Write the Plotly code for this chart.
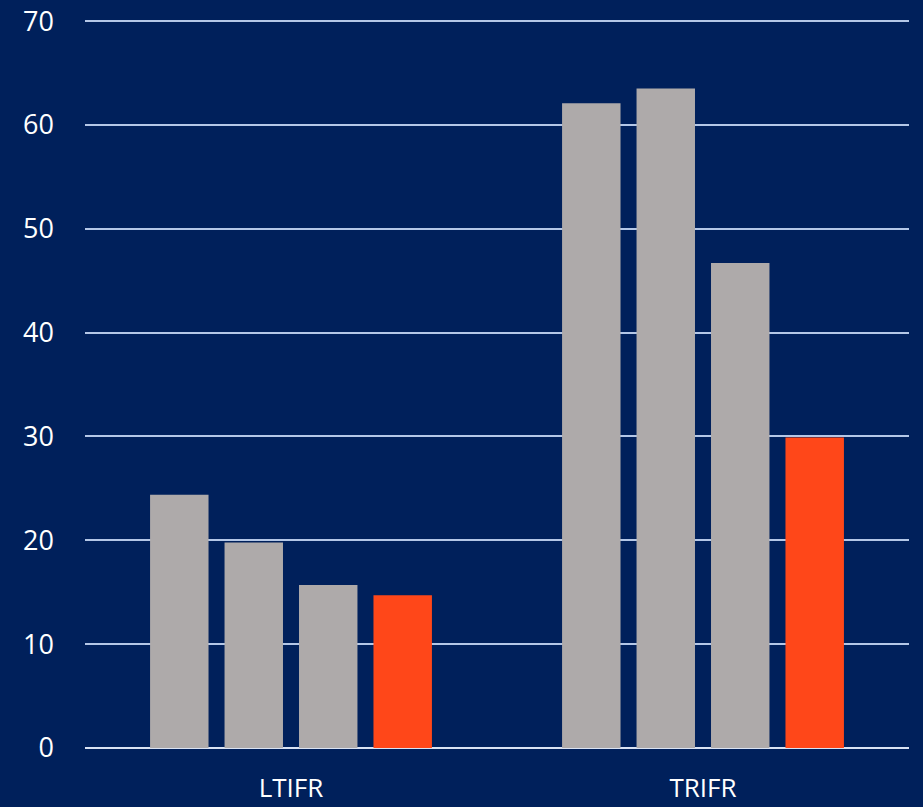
import plotly.graph_objects as go

categories = ["LTIFR", "TRIFR"]
series_names = ["Year 1", "Year 2", "Year 3", "Year 4"]
series_values = [
    [24.4, 62.1],
    [19.8, 63.5],
    [15.7, 46.7],
    [14.7, 29.9],
]
series_colors = ["#AEAAAA", "#AEAAAA", "#AEAAAA", "#FF4719"]
y_ticks = [0, 10, 20, 30, 40, 50, 60, 70]

BG = "#00205B"
FONT = "Open Sans"

fig = go.Figure()
for name, vals, col in zip(series_names, series_values, series_colors):
    fig.add_trace(go.Bar(x=categories, y=vals, name=name, marker=dict(color=col, line=dict(width=0))))

fig.update_layout(
    width=923, height=807,
    paper_bgcolor=BG, plot_bgcolor=BG,
    barmode="group", bargap=0.277, bargroupgap=0.215,
    showlegend=False,
    margin=dict(l=85, r=14, t=18, b=59),
    font=dict(family=FONT, color="white", size=27),
    xaxis=dict(showgrid=False, showline=False, zeroline=False, ticks="", automargin=False,
               tickfont=dict(size=26, color="white", family=FONT), ticklabelstandoff=22),
    yaxis=dict(range=[0, 70.3], tickvals=y_ticks, showgrid=True, gridcolor="#B4C7E7", gridwidth=1.5,
               zeroline=True, zerolinecolor="#D9E2F3", zerolinewidth=2, showline=False, ticks="",
               automargin=False,
               tickfont=dict(size=27, color="white", family=FONT), ticklabelstandoff=30),
)

fig.write_html("out.html")
